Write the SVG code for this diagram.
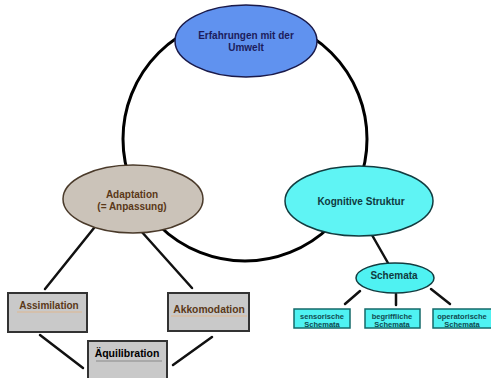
<svg xmlns="http://www.w3.org/2000/svg" width="491" height="378" viewBox="0 0 491 378">
<style>
text{font-family:"Liberation Sans",Arial,sans-serif;font-weight:bold;text-anchor:middle}
.conn{stroke:#111;stroke-width:2.5;fill:none;stroke-linecap:round}
.box{fill:#c9c9c9;stroke:#333;stroke-width:2}
.sub{fill:#4ff2f2;stroke:#156a6a;stroke-width:1.5}
.t-sub{font-size:7.5px;fill:#0f4a50}
.ul{stroke-width:1.2}
</style>
<rect width="491" height="378" fill="#fff"/>
<g id="connectors">
<circle cx="245" cy="139" r="122" fill="none" stroke="#000" stroke-width="3"/>
<line class="conn" x1="94" y1="228" x2="45" y2="289"/>
<line class="conn" x1="141" y1="231" x2="192" y2="288"/>
<line class="conn" x1="40" y1="335" x2="83" y2="368"/>
<line class="conn" x1="212" y1="337" x2="173" y2="365"/>
<line class="conn" x1="372" y1="235" x2="388" y2="263"/>
<line class="conn" x1="360" y1="291" x2="345" y2="304" stroke-width="2"/>
<line class="conn" x1="396" y1="294" x2="396" y2="305" stroke-width="2"/>
<line class="conn" x1="431" y1="289" x2="450" y2="304" stroke-width="2"/>
</g>
<g id="erfahrungen">
<ellipse cx="246" cy="41" rx="71" ry="36" fill="#6092ef" stroke="#1a1a4a" stroke-width="1.5"/>
<text x="246" y="39" font-size="10" fill="#1c1c5c">Erfahrungen mit der</text>
<text x="246" y="51" font-size="10" fill="#1c1c5c">Umwelt</text>
</g>
<g id="adaptation">
<ellipse cx="133" cy="199" rx="70" ry="34" fill="#cbc3b9" stroke="#4a3a2a" stroke-width="1.5"/>
<text x="132" y="198" font-size="10" fill="#5a3818">Adaptation</text>
<text x="132" y="210" font-size="10" fill="#5a3818">(= Anpassung)</text>
</g>
<g id="kognitive">
<ellipse cx="359" cy="201" rx="74" ry="35" fill="#5ff4f4" stroke="#123c40" stroke-width="1.5"/>
<text x="361" y="205" font-size="10" fill="#0f3a40">Kognitive Struktur</text>
</g>
<g id="assimilation">
<rect class="box" x="8" y="293" width="79" height="39"/>
<text x="49" y="309" font-size="10" fill="#5a3818">Assimilation</text>
<line class="ul" x1="17" y1="312" x2="82" y2="312" stroke="#e0b890"/>
</g>
<g id="akkomodation">
<rect class="box" x="168" y="293" width="81" height="38"/>
<text x="209" y="313" font-size="10.3" fill="#5a3818">Akkomodation</text>
<line class="ul" x1="171" y1="316" x2="247" y2="316" stroke="#e0b890"/>
</g>
<g id="aequilibration">
<rect class="box" x="88" y="341" width="79" height="42"/>
<text x="127" y="357" font-size="10.5" fill="#000">Äquilibration</text>
<line class="ul" x1="96" y1="361" x2="162" y2="361" stroke="#8a8a8a"/>
</g>
<g id="schemata">
<ellipse cx="395" cy="278" rx="39" ry="15" fill="#4ff2f2" stroke="#123c40" stroke-width="1.5"/>
<text x="394" y="279" font-size="10" fill="#0f3a40">Schemata</text>
</g>
<g id="sensorische">
<rect class="sub" x="294" y="309" width="56" height="19"/>
<text class="t-sub" x="322" y="319">sensorische</text>
<text class="t-sub" x="322" y="327">Schemata</text>
</g>
<g id="begriffliche">
<rect class="sub" x="365" y="309" width="55" height="19"/>
<text class="t-sub" x="392" y="319">begriffliche</text>
<text class="t-sub" x="392" y="327">Schemata</text>
</g>
<g id="operatorische">
<rect class="sub" x="433" y="309" width="60" height="19"/>
<text class="t-sub" x="462" y="319">operatorische</text>
<text class="t-sub" x="462" y="327">Schemata</text>
</g>
</svg>
